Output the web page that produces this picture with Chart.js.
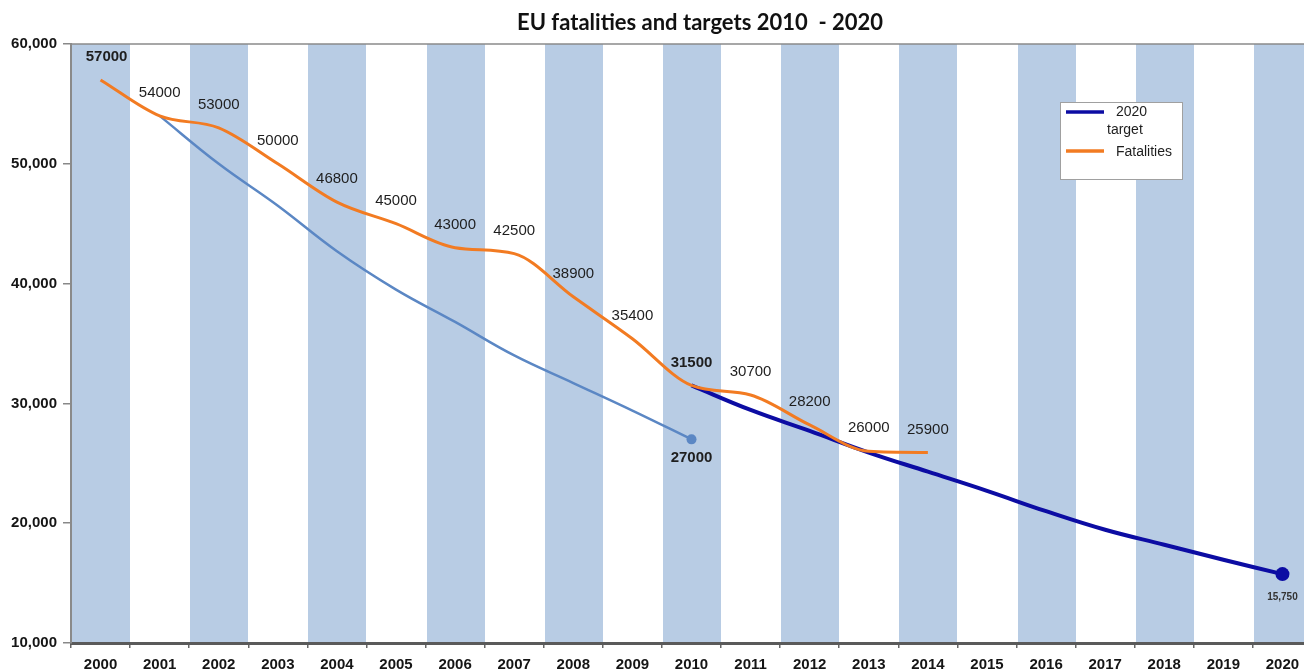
<!DOCTYPE html>
<html>
<head>
<meta charset="utf-8">
<title>EU fatalities and targets 2010 - 2020</title>
<script src="https://cdn.jsdelivr.net/npm/chart.js@4.4.1/dist/chart.umd.min.js"></script>
<style>
  html, body { margin: 0; padding: 0; background: #ffffff; overflow: hidden; }
  #wrap { width: 1320px; height: 672px; position: relative; }
</style>
</head>
<body>
<div id="wrap"><canvas id="chart" width="1320" height="672"></canvas></div>
<script>
// Years on the category axis
const years = ['2000','2001','2002','2003','2004','2005','2006','2007','2008','2009','2010',
               '2011','2012','2013','2014','2015','2016','2017','2018','2019','2020'];

// Recorded road fatalities in the EU
const fatalities = [57000, 54000, 53000, 50000, 46800, 45000, 43000, 42500, 38900, 35400, 31500,
                    30700, 28200, 26000, 25900, null, null, null, null, null, null];

// Path towards the 2010 target (halving from 2001)
const target2010 = [null, 54000, 50000, 46500, 42700, 39500, 36800, 34000, 31700, 29400, 27000,
                    null, null, null, null, null, null, null, null, null, null];

// Path towards the 2020 target (halving from 2010)
const target2020 = [null, null, null, null, null, null, null, null, null, null, 31500,
                    29450, 27700, 25900, 24300, 22700, 21000, 19450, 18200, 16950, 15750];

// Y axis tick values
const yTicks = [10000, 20000, 30000, 40000, 50000, 60000];

const TITLE = 'EU fatalities and targets 2010  - 2020';
const COL_ORANGE = '#F27B22';
const COL_NAVY = '#0C0CA3';
const COL_STEEL = '#5B87C4';
const COL_BAND = '#B8CCE4';
const FONT = '"Liberation Sans", Arial, sans-serif';

// Alternating shaded columns (under the axes), top border and the title
const backdrop = {
  id: 'backdrop',
  beforeDraw(chart) {
    const { ctx, chartArea: a, scales: { x } } = chart;
    const w = x.getPixelForValue(1) - x.getPixelForValue(0);
    ctx.save();
    ctx.fillStyle = COL_BAND;
    years.forEach((y, i) => {
      if (i % 2 === 0) {
        const cx = x.getPixelForValue(i);
        ctx.fillRect(Math.round(cx - w / 2) + 1, a.top, Math.round(w) - 1, a.bottom - a.top);
      }
    });
    ctx.restore();
  },
  afterDraw(chart) {
    const { ctx, chartArea: a } = chart;
    ctx.save();
    ctx.strokeStyle = '#8a8a8a';
    ctx.lineWidth = 1.5;
    ctx.beginPath();
    ctx.moveTo(a.left - 1, a.top);
    ctx.lineTo(a.right, a.top);
    ctx.stroke();
    ctx.fillStyle = '#111111';
    ctx.font = 'bold 22px Lato, "Open Sans", sans-serif';
    ctx.textAlign = 'center';
    ctx.textBaseline = 'alphabetic';
    ctx.fillText(TITLE, 700, 30);
    ctx.restore();
  }
};

// Value labels next to the points
const valueLabels = {
  id: 'valueLabels',
  afterDatasetsDraw(chart) {
    const { ctx } = chart;
    ctx.save();
    ctx.textAlign = 'center';
    ctx.textBaseline = 'middle';
    ctx.fillStyle = '#1e1e1e';
    // fatalities: every point, above the line
    const mf = chart.getDatasetMeta(0);
    fatalities.forEach((v, i) => {
      if (v === null) return;
      const p = mf.data[i];
      const bold = (i === 0 || i === 10);
      ctx.font = (bold ? 'bold ' : '') + '15px ' + FONT;
      const dx = i === 0 ? 6 : 0;
      ctx.fillText(String(v), p.x + dx, p.y - 23);
    });
    // end of the 2010 path
    const ms = chart.getDatasetMeta(2);
    const ps = ms.data[10];
    ctx.font = 'bold 15px ' + FONT;
    ctx.fillText(String(target2010[10]), ps.x, ps.y + 19);
    // end of the 2020 path
    const mn = chart.getDatasetMeta(1);
    const pn = mn.data[20];
    ctx.font = 'bold 10px ' + FONT;
    ctx.fillStyle = '#333333';
    ctx.fillText(target2020[20].toLocaleString('en-US'), pn.x, pn.y + 23);
    ctx.restore();
  }
};

// Legend box inside the plot
const boxLegend = {
  id: 'boxLegend',
  afterDraw(chart) {
    const { ctx } = chart;
    ctx.save();
    ctx.fillStyle = '#ffffff';
    ctx.fillRect(1060, 102, 122, 77);
    ctx.strokeStyle = '#a0a0a0';
    ctx.lineWidth = 1;
    ctx.strokeRect(1060.5, 102.5, 122, 77);
    ctx.lineCap = 'butt';
    ctx.lineWidth = 3.5;
    ctx.strokeStyle = COL_NAVY;
    ctx.beginPath(); ctx.moveTo(1066, 112); ctx.lineTo(1104, 112); ctx.stroke();
    ctx.strokeStyle = COL_ORANGE;
    ctx.beginPath(); ctx.moveTo(1066, 151); ctx.lineTo(1104, 151); ctx.stroke();
    ctx.fillStyle = '#1e1e1e';
    ctx.font = '14px ' + FONT;
    ctx.textAlign = 'left';
    ctx.textBaseline = 'middle';
    ctx.fillText('2020', 1116, 112);
    ctx.fillText('target', 1107, 130);
    ctx.fillText('Fatalities', 1116, 152);
    ctx.restore();
  }
};

new Chart(document.getElementById('chart'), {
  type: 'line',
  data: {
    labels: years,
    datasets: [
      {
        label: 'Fatalities',
        data: fatalities,
        borderColor: COL_ORANGE,
        borderWidth: 3,
        pointRadius: 0,
        cubicInterpolationMode: 'monotone',
        spanGaps: false,
        order: 1
      },
      {
        label: '2020 target',
        data: target2020,
        borderColor: COL_NAVY,
        backgroundColor: COL_NAVY,
        borderWidth: 4,
        tension: 0.4,
        pointRadius: ctx => ctx.dataIndex === 20 ? 7 : 0,
        pointBorderWidth: 0,
        order: 2
      },
      {
        label: '2010 target',
        data: target2010,
        borderColor: COL_STEEL,
        backgroundColor: COL_STEEL,
        borderWidth: 2.5,
        tension: 0.4,
        pointRadius: ctx => ctx.dataIndex === 10 ? 5 : 0,
        pointBorderWidth: 0,
        order: 3
      }
    ]
  },
  options: {
    responsive: false,
    animation: false,
    devicePixelRatio: 1,
    layout: { padding: { top: 44, right: 8, left: 0, bottom: 0 } },
    plugins: {
      legend: { display: false },
      tooltip: { enabled: false },
      title: { display: false }
    },
    scales: {
      x: {
        type: 'category',
        offset: true,
        grid: {
          offset: true,
          drawOnChartArea: false,
          drawTicks: true,
          tickLength: 5,
          color: '#666666',
          lineWidth: 1.5
        },
        border: { display: true, color: '#5a5a5a', width: 3 },
        ticks: {
          color: '#151515',
          font: { family: FONT, size: 15, weight: 'bold' },
          padding: 8,
          maxRotation: 0,
          autoSkip: false
        },
        afterFit(scale) { scale.height = 29; }
      },
      y: {
        min: 10000,
        max: 60000,
        afterBuildTicks(scale) { scale.ticks = yTicks.map(v => ({ value: v })); },
        grid: {
          drawOnChartArea: false,
          drawTicks: true,
          tickLength: 8,
          color: '#888888',
          lineWidth: 1.5
        },
        border: { display: true, color: '#8a8a8a', width: 2 },
        ticks: {
          color: '#151515',
          font: { family: FONT, size: 15, weight: 'bold' },
          padding: 6,
          callback: v => Number(v).toLocaleString('en-US')
        },
        afterFit(scale) { scale.width = 71; }
      }
    }
  },
  plugins: [backdrop, valueLabels, boxLegend]
});
</script>
</body>
</html>
